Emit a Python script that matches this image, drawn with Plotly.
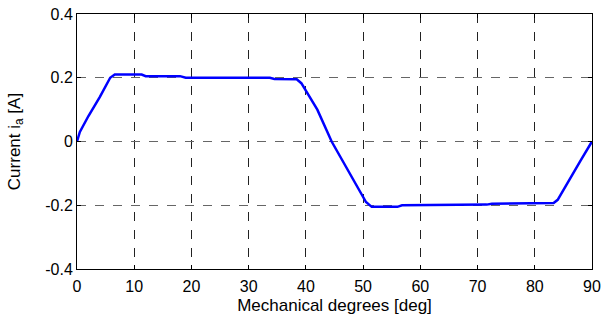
import plotly.graph_objects as go

deg = [0, 0.5, 2, 4, 5.8, 6.6, 8, 11.3, 12, 18, 19, 33.7, 34.5, 38.4, 39.2, 42, 44.5, 47, 49.5, 50.5, 51.5, 56, 56.8, 63.5, 64.5, 71.6, 72.5, 78.6, 79.5, 83.3, 84, 86, 88, 90]
cur = [0, 0.03, 0.08, 0.14, 0.2, 0.21, 0.21, 0.21, 0.205, 0.205, 0.2, 0.2, 0.196, 0.195, 0.183, 0.1, 0.0, -0.08, -0.16, -0.19, -0.205, -0.205, -0.2, -0.2, -0.198, -0.198, -0.195, -0.195, -0.193, -0.193, -0.183, -0.12, -0.06, 0]

xticks = [0, 10, 20, 30, 40, 50, 60, 70, 80, 90]
yticks = [-0.4, -0.2, 0, 0.2, 0.4]
ytext = ["-0.4", "-0.2", "0", "0.2", "0.4"]

FAM = "Liberation Sans, Arial, sans-serif"
tick_font = dict(family=FAM, size=16, color="black")
title_font = dict(family=FAM, size=17, color="black")

fig = go.Figure(go.Scatter(x=deg, y=cur, mode="lines", line=dict(color="#0000ff", width=2.5)))

fig.update_layout(
    width=601, height=322,
    margin=dict(l=77, r=9, t=14, b=53),
    paper_bgcolor="white", plot_bgcolor="white",
    showlegend=False,
    font=tick_font,
)
fig.update_xaxes(
    range=[0, 90], tickvals=xticks, ticks="inside", ticklen=4, tickcolor="black",
    showline=True, linecolor="black", linewidth=1, mirror="ticks",
    showgrid=True, gridcolor="#222", griddash="dash", gridwidth=1, zeroline=False,
    title=dict(text="Mechanical degrees [deg]", standoff=4, font=title_font),
    tickfont=tick_font, automargin=False, ticklabelstandoff=3,
)
fig.update_yaxes(
    range=[-0.4, 0.4], tickvals=yticks, ticktext=ytext, ticks="inside", ticklen=4, tickcolor="black",
    showline=True, linecolor="black", linewidth=1, mirror="ticks",
    showgrid=True, gridcolor="#666", griddash="dash", gridwidth=1, zeroline=False,
    title=dict(text="Current i<sub>a</sub> [A]", standoff=20, font=title_font),
    tickfont=tick_font, automargin=False,
)
fig.write_html("out.html")
